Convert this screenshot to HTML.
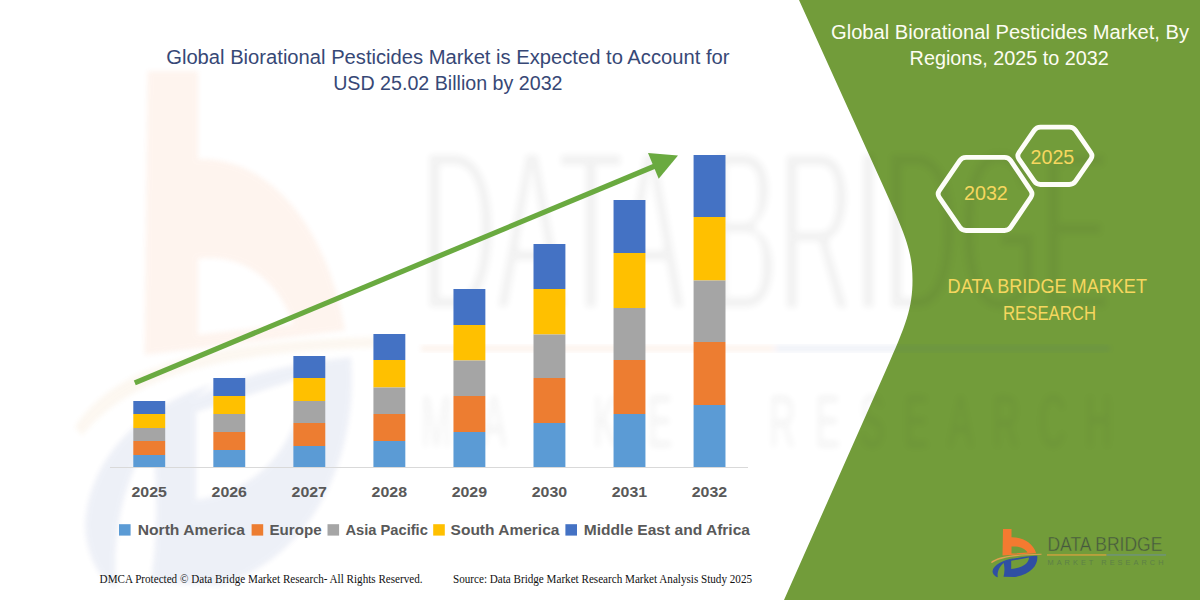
<!DOCTYPE html>
<html><head><meta charset="utf-8"><title>Global Biorational Pesticides Market</title>
<style>
html,body{margin:0;padding:0;background:#fff;}
body{width:1200px;height:600px;overflow:hidden;font-family:"Liberation Sans",sans-serif;}
svg{display:block;}
text{font-family:"Liberation Sans",sans-serif;}
.yr{font-weight:bold;font-size:15.2px;fill:#595959;}
.lg{font-weight:bold;font-size:15.2px;fill:#595959;}
.ttl{font-size:20px;fill:#374876;}
.rt{font-size:20px;fill:#fdfdf2;}
.yl{font-size:20.3px;fill:#f6d75f;}
.hx{font-size:20px;fill:#f6d75f;}
.ft{font-family:"Liberation Serif",serif;font-size:12px;fill:#111;}
</style></head><body>
<svg width="1200" height="600" viewBox="0 0 1200 600">
<defs>
<filter id="bl" x="-5%" y="-5%" width="110%" height="110%"><feGaussianBlur stdDeviation="2.5"/></filter>
<filter id="bl3" x="-5%" y="-20%" width="110%" height="140%"><feGaussianBlur stdDeviation="3.2"/></filter>
<filter id="blt" x="-5%" y="-5%" width="110%" height="110%"><feMorphology operator="erode" radius="0.4 3.5"/><feGaussianBlur stdDeviation="3"/></filter>
</defs>
<rect width="1200" height="600" fill="#ffffff"/>
<!-- green panel -->
<path d="M799,0 L885,190 C905.4,235 912.5,252 912.5,280 C912.5,308 906,325 886,370 L784,600 L1200,600 L1200,0 Z" fill="#729c3a"/>
<!-- watermark -->
<g opacity="0.078" filter="url(#bl)">
<g transform="translate(40.4,-4) scale(0.595,1.072)"><g>
<path d="M180,70 L265,70 L265,152 C380,150 480,210 512,312 L175,335 Z M265,245 L265,316 L425,306 C400,265 340,240 265,245 Z" fill="#f47a30" fill-rule="evenodd"/>
<path d="M58,402 C120,350 250,322 565,318 L565,328 C300,332 150,355 70,410 Z" fill="#e0a050"/>
<path d="M185,402 C280,358 420,342 522,337 C535,420 470,522 300,550 L185,547 C200,500 195,440 185,402 Z M262,388 L262,470 C380,460 440,410 440,356 Z" fill="#2f4fa3" fill-rule="evenodd"/>
<path d="M75,492 C85,425 180,380 290,362 L195,402 C150,440 118,490 128,552 C100,545 76,522 75,492 Z" fill="#2f4fa3"/>
</g></g>
</g>
<g opacity="0.06" filter="url(#blt)">
<text x="421" y="311" font-size="232" fill="#202020" textLength="689" lengthAdjust="spacingAndGlyphs">DATA BRIDGE</text>
</g>
<g opacity="0.05" filter="url(#bl3)">
<g transform="translate(421,447) scale(1,2.0)"><text x="0" y="0" font-size="37" fill="#202020" textLength="304" lengthAdjust="spacing">MARKET</text><text x="348" y="0" font-size="37" fill="#202020" textLength="343" lengthAdjust="spacing">RESEARCH</text></g>
</g>
<g opacity="0.07" filter="url(#bl)">
<rect x="421" y="345" width="354" height="7" fill="#e07020"/>
<rect x="775" y="345" width="335" height="7" fill="#3050a0"/>
</g>
<!-- titles -->
<text x="166.2" y="63.7" class="ttl" textLength="563.3" lengthAdjust="spacingAndGlyphs">Global Biorational Pesticides Market is Expected to Account for</text>
<text x="333.2" y="90" class="ttl" textLength="229.3" lengthAdjust="spacingAndGlyphs">USD 25.02 Billion by 2032</text>
<!-- axis -->
<rect x="110" y="467" width="638" height="1" fill="#d9d9d9"/>
<rect x="133.30" y="401" width="31.9" height="13.00" fill="#4472C4"/>
<rect x="133.30" y="414" width="31.9" height="14.00" fill="#FFC000"/>
<rect x="133.30" y="428" width="31.9" height="13.00" fill="#A5A5A5"/>
<rect x="133.30" y="441" width="31.9" height="14.00" fill="#ED7D31"/>
<rect x="133.30" y="455" width="31.9" height="12.00" fill="#5B9BD5"/>
<text x="149.20" y="496.5" text-anchor="middle" class="yr" textLength="35.4" lengthAdjust="spacingAndGlyphs">2025</text>
<rect x="213.34" y="378" width="31.9" height="18.00" fill="#4472C4"/>
<rect x="213.34" y="396" width="31.9" height="18.00" fill="#FFC000"/>
<rect x="213.34" y="414" width="31.9" height="18.00" fill="#A5A5A5"/>
<rect x="213.34" y="432" width="31.9" height="18.00" fill="#ED7D31"/>
<rect x="213.34" y="450" width="31.9" height="17.00" fill="#5B9BD5"/>
<text x="229.24" y="496.5" text-anchor="middle" class="yr" textLength="35.4" lengthAdjust="spacingAndGlyphs">2026</text>
<rect x="293.38" y="356" width="31.9" height="22.00" fill="#4472C4"/>
<rect x="293.38" y="378" width="31.9" height="23.00" fill="#FFC000"/>
<rect x="293.38" y="401" width="31.9" height="22.00" fill="#A5A5A5"/>
<rect x="293.38" y="423" width="31.9" height="23.00" fill="#ED7D31"/>
<rect x="293.38" y="446" width="31.9" height="21.00" fill="#5B9BD5"/>
<text x="309.28" y="496.5" text-anchor="middle" class="yr" textLength="35.4" lengthAdjust="spacingAndGlyphs">2027</text>
<rect x="373.42" y="334" width="31.9" height="26.00" fill="#4472C4"/>
<rect x="373.42" y="360" width="31.9" height="27.50" fill="#FFC000"/>
<rect x="373.42" y="387.5" width="31.9" height="26.50" fill="#A5A5A5"/>
<rect x="373.42" y="414" width="31.9" height="27.00" fill="#ED7D31"/>
<rect x="373.42" y="441" width="31.9" height="26.00" fill="#5B9BD5"/>
<text x="389.32" y="496.5" text-anchor="middle" class="yr" textLength="35.4" lengthAdjust="spacingAndGlyphs">2028</text>
<rect x="453.46" y="289" width="31.9" height="36.00" fill="#4472C4"/>
<rect x="453.46" y="325" width="31.9" height="35.50" fill="#FFC000"/>
<rect x="453.46" y="360.5" width="31.9" height="35.50" fill="#A5A5A5"/>
<rect x="453.46" y="396" width="31.9" height="36.00" fill="#ED7D31"/>
<rect x="453.46" y="432" width="31.9" height="35.00" fill="#5B9BD5"/>
<text x="469.36" y="496.5" text-anchor="middle" class="yr" textLength="35.4" lengthAdjust="spacingAndGlyphs">2029</text>
<rect x="533.50" y="244" width="31.9" height="45.00" fill="#4472C4"/>
<rect x="533.50" y="289" width="31.9" height="45.50" fill="#FFC000"/>
<rect x="533.50" y="334.5" width="31.9" height="43.50" fill="#A5A5A5"/>
<rect x="533.50" y="378" width="31.9" height="45.00" fill="#ED7D31"/>
<rect x="533.50" y="423" width="31.9" height="44.00" fill="#5B9BD5"/>
<text x="549.40" y="496.5" text-anchor="middle" class="yr" textLength="35.4" lengthAdjust="spacingAndGlyphs">2030</text>
<rect x="613.54" y="200" width="31.9" height="53.00" fill="#4472C4"/>
<rect x="613.54" y="253" width="31.9" height="55.00" fill="#FFC000"/>
<rect x="613.54" y="308" width="31.9" height="52.00" fill="#A5A5A5"/>
<rect x="613.54" y="360" width="31.9" height="54.00" fill="#ED7D31"/>
<rect x="613.54" y="414" width="31.9" height="53.00" fill="#5B9BD5"/>
<text x="629.44" y="496.5" text-anchor="middle" class="yr" textLength="35.4" lengthAdjust="spacingAndGlyphs">2031</text>
<rect x="693.58" y="155" width="31.9" height="62.00" fill="#4472C4"/>
<rect x="693.58" y="217" width="31.9" height="63.50" fill="#FFC000"/>
<rect x="693.58" y="280.5" width="31.9" height="61.50" fill="#A5A5A5"/>
<rect x="693.58" y="342" width="31.9" height="63.00" fill="#ED7D31"/>
<rect x="693.58" y="405" width="31.9" height="62.00" fill="#5B9BD5"/>
<text x="709.48" y="496.5" text-anchor="middle" class="yr" textLength="35.4" lengthAdjust="spacingAndGlyphs">2032</text>
<!-- arrow -->
<line x1="134.8" y1="382.9" x2="655" y2="166" stroke="#6aaa40" stroke-width="5.2"/>
<polygon points="648,153 678,155.5 658.7,178.7" fill="#6aaa40"/>
<rect x="119" y="524.2" width="11.6" height="11.4" fill="#5B9BD5"/>
<text x="137.7" y="535.4" class="lg" textLength="107.3" lengthAdjust="spacingAndGlyphs">North America</text>
<rect x="251.6" y="524.2" width="11.6" height="11.4" fill="#ED7D31"/>
<text x="269.5" y="535.4" class="lg" textLength="52.1" lengthAdjust="spacingAndGlyphs">Europe</text>
<rect x="327.5" y="524.2" width="11.6" height="11.4" fill="#A5A5A5"/>
<text x="345.4" y="535.4" class="lg" textLength="82.5" lengthAdjust="spacingAndGlyphs">Asia Pacific</text>
<rect x="433.2" y="524.2" width="11.6" height="11.4" fill="#FFC000"/>
<text x="450.6" y="535.4" class="lg" textLength="108.8" lengthAdjust="spacingAndGlyphs">South America</text>
<rect x="565.4" y="524.2" width="11.6" height="11.4" fill="#4472C4"/>
<text x="583.8" y="535.4" class="lg" textLength="166.2" lengthAdjust="spacingAndGlyphs">Middle East and Africa</text>
<text x="99.6" y="583.2" class="ft" textLength="323" lengthAdjust="spacingAndGlyphs">DMCA Protected © Data Bridge Market Research- All Rights Reserved.</text>
<text x="453" y="583" class="ft" textLength="299" lengthAdjust="spacingAndGlyphs">Source: Data Bridge Market Research Market Analysis Study 2025</text>
<!-- right panel text -->
<text x="831" y="39.1" class="rt" textLength="358" lengthAdjust="spacingAndGlyphs">Global Biorational Pesticides Market, By</text>
<text x="909.6" y="64.5" class="rt" textLength="199.2" lengthAdjust="spacingAndGlyphs">Regions, 2025 to 2032</text>
<!-- hexagons -->
<path d="M939.26,197.30 Q937.00,194.00 939.25,190.69 L959.75,160.61 Q962.00,157.30 966.00,157.30 L1004.50,157.30 Q1008.50,157.30 1010.73,160.62 L1030.87,190.68 Q1033.10,194.00 1030.86,197.32 L1010.74,227.18 Q1008.50,230.50 1004.50,230.50 L966.00,230.50 Q962.00,230.50 959.74,227.20 Z" fill="none" stroke="#fdfdf8" stroke-width="4.8" stroke-linejoin="round"/>
<path d="M1018.97,159.09 Q1016.70,155.80 1018.97,152.51 L1034.23,130.39 Q1036.50,127.10 1040.50,127.10 L1069.30,127.10 Q1073.30,127.10 1075.57,130.39 L1090.83,152.51 Q1093.10,155.80 1090.83,159.09 L1075.57,181.21 Q1073.30,184.50 1069.30,184.50 L1040.50,184.50 Q1036.50,184.50 1034.23,181.21 Z" fill="none" stroke="#fdfdf8" stroke-width="4.8" stroke-linejoin="round"/>
<text x="964" y="200.4" class="hx" textLength="43.8" lengthAdjust="spacingAndGlyphs">2032</text>
<text x="1030.5" y="164.2" class="hx" textLength="43.8" lengthAdjust="spacingAndGlyphs">2025</text>
<text x="947.6" y="293" class="yl" textLength="199.4" lengthAdjust="spacingAndGlyphs">DATA BRIDGE MARKET</text>
<text x="1003" y="320" class="yl" textLength="93" lengthAdjust="spacingAndGlyphs">RESEARCH</text>
<!-- logo -->
<g transform="translate(985,522) scale(0.1)"><g>
<path d="M180,70 L265,70 L265,152 C380,150 480,210 512,312 L175,335 Z M265,245 L265,316 L425,306 C400,265 340,240 265,245 Z" fill="#f47a30" fill-rule="evenodd"/>
<path d="M58,402 C120,350 250,322 565,318 L565,328 C300,332 150,355 70,410 Z" fill="#e0a050"/>
<path d="M185,402 C280,358 420,342 522,337 C535,420 470,522 300,550 L185,547 C200,500 195,440 185,402 Z M262,388 L262,470 C380,460 440,410 440,356 Z" fill="#2f4fa3" fill-rule="evenodd"/>
<path d="M75,492 C85,425 180,380 290,362 L195,402 C150,440 118,490 128,552 C100,545 76,522 75,492 Z" fill="#2f4fa3"/>
</g></g>
<text x="1047.4" y="551.4" font-size="20.6" fill="#46583f" stroke="#729c3a" stroke-width="0.45" textLength="115" lengthAdjust="spacingAndGlyphs">DATA BRIDGE</text>
<rect x="1047" y="554.3" width="59.5" height="1.3" fill="#d8a23e"/>
<rect x="1106.5" y="554.4" width="59.5" height="1.1" fill="#6e8f8f"/>
<text x="1047.5" y="565.4" font-size="7.4" fill="#5d8047" textLength="116" lengthAdjust="spacing">MARKET RESEARCH</text>
</svg>
</body></html>
